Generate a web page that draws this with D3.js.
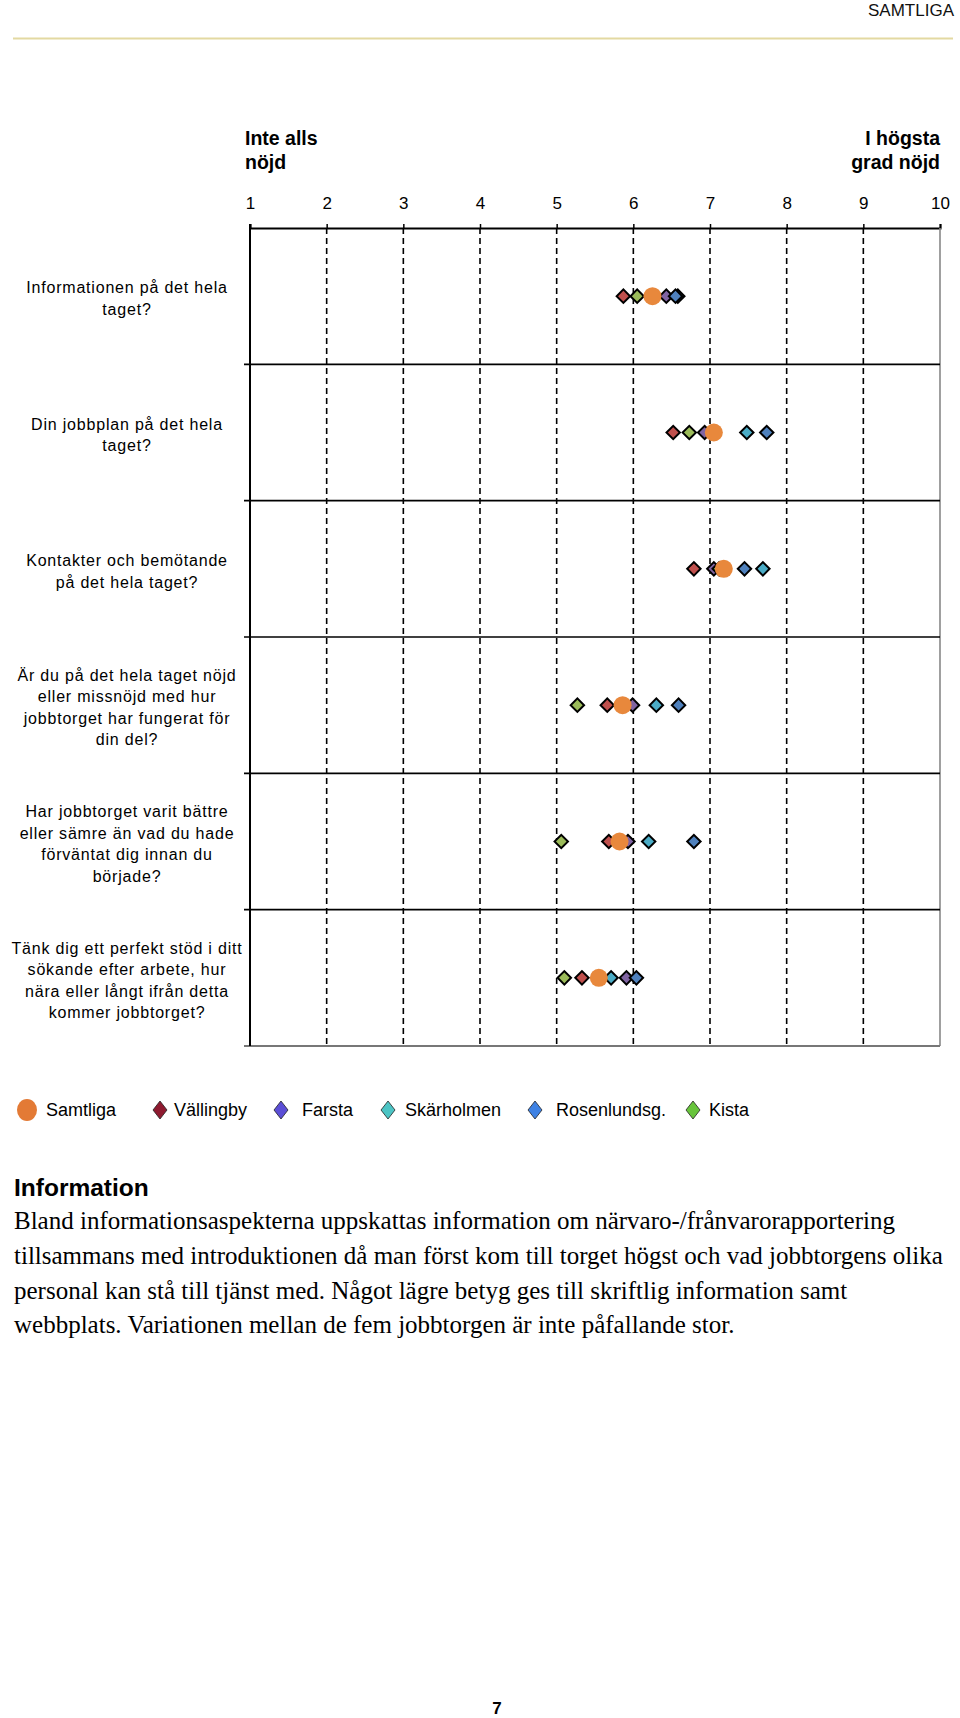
<!DOCTYPE html>
<html>
<head>
<meta charset="utf-8">
<script src="https://cdn.jsdelivr.net/npm/d3@7"></script>
<style>
  html, body { margin: 0; padding: 0; background: #fff; }
  svg { display: block; }
</style>
</head>
<body>
<svg id="chart" width="960" height="1718"></svg>
<script>
// ---------- DATA ----------
const categories = [
  ["Informationen på det hela", "taget?"],
  ["Din jobbplan på det hela", "taget?"],
  ["Kontakter och bemötande", "på det hela taget?"],
  ["Är du på det hela taget nöjd", "eller missnöjd med hur", "jobbtorget har fungerat för", "din del?"],
  ["Har jobbtorget varit bättre", "eller sämre än vad du hade", "förväntat dig innan du", "började?"],
  ["Tänk dig ett perfekt stöd i ditt", "sökande efter arbete, hur", "nära eller långt ifrån detta", "kommer jobbtorget?"]
];
const seriesNames = ["Samtliga", "Vällingby", "Farsta", "Skärholmen", "Rosenlundsg.", "Kista"];
const samtliga    = [6.25, 7.05, 7.18, 5.86, 5.82, 5.55];
const vallingby   = [5.87, 6.52, 6.79, 5.66, 5.68, 5.33];
const farsta      = [6.43, 6.93, 7.05, 5.99, 5.93, 5.91];
const skarholmen  = [6.58, 7.48, 7.69, 6.30, 6.20, 5.71];
const rosenlundsg = [6.55, 7.74, 7.45, 6.59, 6.79, 6.04];
const kista       = [6.05, 6.73, 7.12, 5.27, 5.06, 5.10];
const tickValues = [1, 2, 3, 4, 5, 6, 7, 8, 9, 10];
const leftLabel = ["Inte alls", "nöjd"];
const rightLabel = ["I högsta", "grad nöjd"];
const headerText = "SAMTLIGA";
const sectionTitle = "Information";
const paragraph = [
  "Bland informationsaspekterna uppskattas information om närvaro-/frånvarorapportering",
  "tillsammans med introduktionen då man först kom till torget högst och vad jobbtorgens olika",
  "personal kan stå till tjänst med. Något lägre betyg ges till skriftlig information samt",
  "webbplats. Variationen mellan de fem jobbtorgen är inte påfallande stor."
];
const pageNumber = "7";

// ---------- STYLE ----------
const markerColors = {
  "Samtliga": "#e8883c", "Vällingby": "#c0504d", "Farsta": "#8064a2",
  "Skärholmen": "#4bacc6", "Rosenlundsg.": "#4f81bd", "Kista": "#9bbb59"
};
const legendColors = {
  "Samtliga": "#e37a35", "Vällingby": "#8e1a30", "Farsta": "#5b4ed6",
  "Skärholmen": "#4cc4c4", "Rosenlundsg.": "#3f82e4", "Kista": "#68c43c"
};
const seriesValues = {
  "Samtliga": samtliga, "Vällingby": vallingby, "Farsta": farsta,
  "Skärholmen": skarholmen, "Rosenlundsg.": rosenlundsg, "Kista": kista
};

const svg = d3.select("#chart");
const sans = "'Liberation Sans', Arial, sans-serif";
const serif = "'Liberation Serif', 'Times New Roman', serif";

// Header
svg.append("text").attr("x", 954).attr("y", 16).attr("text-anchor", "end")
  .attr("font-family", sans).attr("font-size", 17).attr("fill", "#111").text(headerText);
svg.append("line").attr("x1", 13).attr("x2", 953).attr("y1", 38.5).attr("y2", 38.5)
  .attr("stroke", "#e3d9a2").attr("stroke-width", 2);

// Scales
const x = d3.scaleLinear().domain([1, 10]).range([250, 940]);
const y = d3.scaleBand().domain(d3.range(categories.length)).range([228, 1046]).padding(0);

// Top labels
leftLabel.forEach((t, i) => svg.append("text").attr("x", 245).attr("y", 145 + i * 24)
  .attr("font-family", sans).attr("font-weight", "bold").attr("font-size", 19.5).attr("fill", "#000").text(t));
rightLabel.forEach((t, i) => svg.append("text").attr("x", 940).attr("y", 145 + i * 24)
  .attr("text-anchor", "end")
  .attr("font-family", sans).attr("font-weight", "bold").attr("font-size", 19.5).attr("fill", "#000").text(t));

// Top axis with numbers
const topAxis = d3.axisTop(x).tickValues(tickValues).tickSize(4).tickPadding(15).tickFormat(d3.format("d"));
const gTop = svg.append("g").attr("transform", "translate(0,228)").call(topAxis);
gTop.select(".domain").attr("stroke", "#000").attr("stroke-width", 2);
gTop.selectAll(".tick line").attr("stroke", "#000").attr("stroke-width", 1.5);
gTop.selectAll(".tick text").attr("font-family", sans).attr("font-size", 17).attr("fill", "#000");

// Vertical dashed gridlines (2..9), solid right edge
const plotTop = 228, plotBottom = 1046;
svg.append("g").selectAll("line").data(tickValues.slice(1, -1)).join("line")
  .attr("x1", d => x(d)).attr("x2", d => x(d)).attr("y1", plotTop).attr("y2", plotBottom)
  .attr("stroke", "#000").attr("stroke-width", 1.6).attr("stroke-dasharray", "6,4");
svg.append("line").attr("x1", x(10)).attr("x2", x(10)).attr("y1", plotTop).attr("y2", plotBottom)
  .attr("stroke", "#888").attr("stroke-width", 1.6);

// Row separators
svg.append("g").selectAll("line").data(d3.range(1, categories.length)).join("line")
  .attr("x1", x(1) - 6).attr("x2", x(10)).attr("y1", d => y(d)).attr("y2", d => y(d))
  .attr("stroke", "#000").attr("stroke-width", 1.6);
// bottom line
svg.append("line").attr("x1", x(1) - 6).attr("x2", x(10)).attr("y1", plotBottom).attr("y2", plotBottom)
  .attr("stroke", "#777").attr("stroke-width", 2);
// left axis
svg.append("line").attr("x1", x(1)).attr("x2", x(1)).attr("y1", plotTop - 4).attr("y2", plotBottom)
  .attr("stroke", "#000").attr("stroke-width", 2);

// Category labels
const labG = svg.append("g");
categories.forEach((lines, i) => {
  const cy = y(i) + y.bandwidth() / 2 + 2;
  const lh = 21.4;
  const y0 = cy - (lines.length - 1) * lh / 2 + 6;
  lines.forEach((t, j) => {
    labG.append("text").attr("x", 127).attr("y", y0 + j * lh).attr("text-anchor", "middle")
      .attr("font-family", sans).attr("font-size", 16).attr("letter-spacing", 0.8)
      .attr("fill", "#000").text(t);
  });
});

// Markers
const diamondSeries = ["Vällingby", "Farsta", "Skärholmen", "Rosenlundsg.", "Kista"];
const mg = svg.append("g");
diamondSeries.forEach(name => {
  mg.append("g").selectAll("path").data(seriesValues[name]).join("path")
    .attr("d", d3.symbol().type(d3.symbolSquare).size(90)())
    .attr("transform", (d, i) => `translate(${x(d)},${y(i) + y.bandwidth() / 2}) rotate(45)`)
    .attr("fill", markerColors[name]).attr("stroke", "#000").attr("stroke-width", 2);
});
mg.append("g").selectAll("circle").data(samtliga).join("circle")
  .attr("cx", d => x(d)).attr("cy", (d, i) => y(i) + y.bandwidth() / 2).attr("r", 9)
  .attr("fill", markerColors["Samtliga"]);

// Legend
const legendX = [27, 160, 281, 388, 535, 693];
const legendTextX = [46, 174, 302, 405, 556, 709];
const legY = 1110;
const lg = svg.append("g");
seriesNames.forEach((name, i) => {
  if (name === "Samtliga") {
    lg.append("ellipse").attr("cx", legendX[i]).attr("cy", legY).attr("rx", 10).attr("ry", 11)
      .attr("fill", legendColors[name]);
  } else {
    lg.append("path").attr("d", "M0,-9L7,0L0,9L-7,0Z")
      .attr("transform", `translate(${legendX[i]},${legY})`)
      .attr("fill", legendColors[name]).attr("stroke", "#222").attr("stroke-width", 0.8);
  }
  lg.append("text").attr("x", legendTextX[i]).attr("y", legY + 6)
    .attr("font-family", sans).attr("font-size", 18).attr("fill", "#000").text(name);
});

// Section text
svg.append("text").attr("x", 14).attr("y", 1196).attr("font-family", sans).attr("font-weight", "bold")
  .attr("font-size", 24.5).attr("fill", "#000").text(sectionTitle);
paragraph.forEach((t, i) => svg.append("text").attr("x", 14).attr("y", 1229 + i * 34.8)
  .attr("font-family", serif).attr("font-size", 25).attr("fill", "#000").text(t));

// Page number
svg.append("text").attr("x", 497).attr("y", 1714).attr("text-anchor", "middle")
  .attr("font-family", sans).attr("font-weight", "bold").attr("font-size", 17).attr("fill", "#000").text(pageNumber);
</script>
</body>
</html>
